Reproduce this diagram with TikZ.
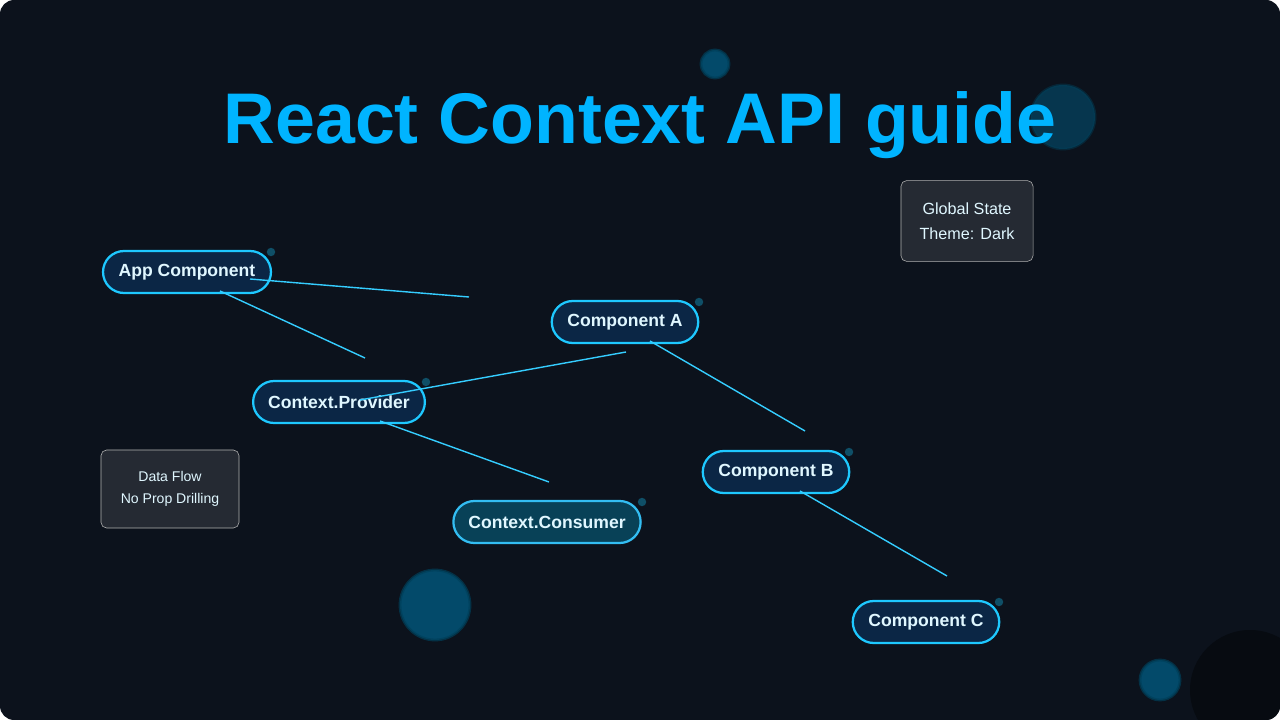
\documentclass[tikz,border=0pt]{standalone}
\usepackage{fontspec}
\setmainfont{Liberation Sans}
\usetikzlibrary{shapes.misc}
\definecolor{bg}{HTML}{0C121C}
\definecolor{cy}{HTML}{1EC8FF}
\definecolor{nf}{HTML}{0B2645}
\definecolor{tx}{HTML}{E0F7FF}
\definecolor{tl}{HTML}{00B4FF}
\definecolor{gb}{HTML}{252A33}
\begin{document}
\begin{tikzpicture}[x=0.025cm,y=-0.025cm,
  pill/.style={draw=cy,line width=1.6pt,fill=nf,rounded rectangle,minimum height=1.05cm,inner xsep=10pt,text=tx,font=\bfseries\fontsize{12.5}{15}\selectfont},
  info/.style={draw=gray!60,line width=0.4pt,fill=gb,rounded corners=4pt,text=tx,align=center},
  edge/.style={draw=cy!90!white,line width=1pt},
  glow/.style={fill=tl!55!black,draw=tl!35!black,line width=2pt,opacity=0.7},
  dot/.style={fill=cy!60!black,circle,inner sep=0pt,minimum size=6pt,opacity=0.6}]
\fill[bg,rounded corners=10pt] (0,0) rectangle (1280,720);
\useasboundingbox (0,0) rectangle (1280,720);
\begin{scope}
\clip[rounded corners=10pt] (0,0) rectangle (1280,720);
\fill[black!40!bg] (1250,690) circle (60);
\end{scope}
\fill[glow] (715,64) circle (14);
\fill[glow,opacity=0.45] (1063,117) circle (32);
\fill[glow] (435,605) circle (35);
\fill[glow] (1160,680) circle (20);
\node[text=tl,font=\bfseries\fontsize{51}{60}\selectfont] (title) at (640,125) {React Context API guide};
\node[info,minimum width=3.3cm,minimum height=2.02cm,font=\fontsize{11.5}{18}\selectfont] (gs) at (967,221) {Global State\\Theme: Dark};
\node[info,minimum width=3.45cm,minimum height=1.95cm,font=\fontsize{10}{16}\selectfont] (df) at (170,489) {Data Flow\\No Prop Drilling};
\coordinate (e1) at (469,297); \coordinate (e2) at (365,358); \coordinate (e3) at (626,352);
\coordinate (e4) at (805,431); \coordinate (e5) at (549,482); \coordinate (e6) at (947,576);
\coordinate (s1) at (250,279); \coordinate (s2) at (220,291); \coordinate (s3) at (360,400);
\coordinate (s4) at (650,341); \coordinate (s5) at (380,421); \coordinate (s6) at (800,491);
\node[pill] (app) at (187,272) {App Component};
\node[pill] (ca) at (625,322) {Component A};
\node[pill] (cp) at (339,402) {Context.Provider};
\node[pill] (cb) at (776,472) {Component B};
\node[pill,draw=cyan!80!white,fill=nf!70!teal] (cc) at (547,522) {Context.Consumer};
\node[pill] (cC) at (926,622) {Component C};
\draw[edge] (s1) -- (e1);
\draw[edge] (s2) -- (e2);
\draw[edge] (s3) -- (e3);
\draw[edge] (s4) -- (e4);
\draw[edge] (s5) -- (e5);
\draw[edge] (s6) -- (e6);
\foreach \n/\p in {d1/{(271,252)},d2/{(699,302)},d3/{(426,382)},d4/{(849,452)},d5/{(642,502)},d6/{(999,602)}}
  \node[dot] (\n) at \p {};
\end{tikzpicture}
\end{document}
